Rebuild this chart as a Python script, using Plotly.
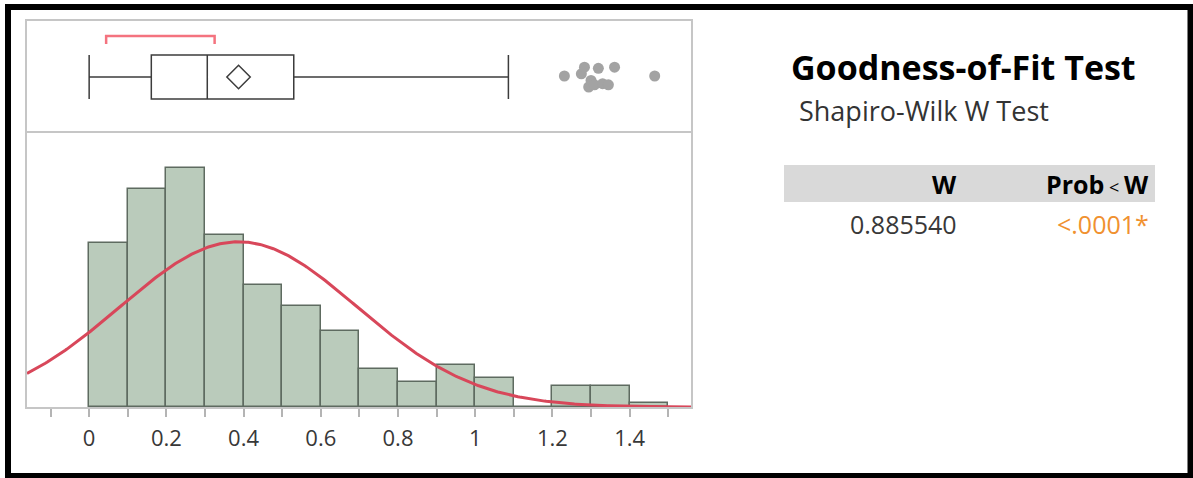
import numpy as np
import plotly.graph_objects as go

# ---------------- data ----------------
bin_starts = [0.0, 0.1, 0.2, 0.3, 0.4, 0.5, 0.6, 0.7, 0.8, 0.9, 1.0, 1.1, 1.2, 1.3, 1.4]
counts = [39, 52, 57, 41, 29, 24, 18, 9, 6, 10, 7, 0, 5, 5, 1]
bin_width = 0.1

fit_mean = 0.387
fit_sd = 0.307

box_lowerfence = 0.0
box_q1 = 0.161
box_median = 0.306
box_q3 = 0.530
box_upperfence = 1.086
box_mean = 0.387
shortest_half = [0.044, 0.325]

outlier_x = [1.231, 1.275, 1.283, 1.294, 1.300, 1.309, 1.319, 1.330, 1.345, 1.361, 1.465]
outlier_jitter = [0.50, 0.52, 0.58, 0.40, 0.46, 0.42, 0.57, 0.43, 0.42, 0.58, 0.50]

x_ticks = [0, 0.2, 0.4, 0.6, 0.8, 1.0, 1.2, 1.4]
x_ticklabels = ["0", "0.2", "0.4", "0.6", "0.8", "1", "1.2", "1.4"]

table_header = ["W", "Prob", "W"]
table_values = ["0.885540", "<.0001*"]
title_text = "Goodness-of-Fit Test"
subtitle_text = "Shapiro-Wilk W Test"

# ---------------- geometry ----------------
W, H = 1193, 478
XRANGE = [-0.161, 1.559]
FONT = "Open Sans"


def fx(px):
    return px / W


def fy(py):
    return (H - py) / H


fig = go.Figure()

# histogram bars
fig.add_trace(go.Bar(
    x=[s + bin_width / 2 for s in bin_starts], y=counts, width=bin_width,
    marker=dict(color="#bacbbb", line=dict(color="#5e6b60", width=1.5)),
    xaxis="x", yaxis="y", showlegend=False, hoverinfo="skip"))

# fitted normal curve
n_total = sum(counts)
xs = np.linspace(XRANGE[0], XRANGE[1], 400)
ys = n_total * bin_width * np.exp(-0.5 * ((xs - fit_mean) / fit_sd) ** 2) / (fit_sd * np.sqrt(2 * np.pi))
fig.add_trace(go.Scatter(x=xs, y=ys, mode="lines", line=dict(color="#d8475a", width=3),
                         xaxis="x", yaxis="y", showlegend=False, hoverinfo="skip"))

# box plot
fig.add_trace(go.Box(
    q1=[box_q1], median=[box_median], q3=[box_q3],
    lowerfence=[box_lowerfence], upperfence=[box_upperfence],
    y=[0.491], orientation="h", width=0.4, whiskerwidth=1,
    fillcolor="rgba(255,255,255,0)", line=dict(color="#3c3c3c", width=1.5),
    boxpoints=False, xaxis="x2", yaxis="y2", showlegend=False, hoverinfo="skip"))

# mean diamond
fig.add_trace(go.Scatter(x=[box_mean], y=[0.491], mode="markers",
                         marker=dict(symbol="diamond-open", size=18, color="#3c3c3c",
                                     line=dict(width=1.5, color="#3c3c3c")),
                         xaxis="x2", yaxis="y2", showlegend=False, hoverinfo="skip"))

# shortest half bracket
fig.add_trace(go.Scatter(x=[shortest_half[0], shortest_half[0], shortest_half[1], shortest_half[1]],
                         y=[0.79, 0.864, 0.864, 0.79], mode="lines",
                         line=dict(color="#f4737f", width=2.5),
                         xaxis="x2", yaxis="y2", showlegend=False, hoverinfo="skip"))

# outliers
fig.add_trace(go.Scatter(x=outlier_x, y=outlier_jitter, mode="markers",
                         marker=dict(size=11, color="#a3a3a3"),
                         xaxis="x2", yaxis="y2", showlegend=False, hoverinfo="skip"))

axis_gray = "#c6c6c6"
fig.update_layout(
    width=W, height=H,
    margin=dict(l=0, r=0, t=0, b=0),
    paper_bgcolor="white", plot_bgcolor="white",
    font=dict(family=FONT, color="#333333"),
    bargap=0,
    xaxis=dict(domain=[fx(27), fx(691)], range=XRANGE, anchor="y",
               tickvals=x_ticks, ticktext=x_ticklabels,
               ticks="outside", ticklen=8, tickwidth=1.5, tickcolor="#b4b4b4",
               minor=dict(dtick=0.1, tick0=0, ticks="outside", ticklen=8, tickwidth=1.5, tickcolor="#b4b4b4"),
               tickfont=dict(size=22, color="#383838", family=FONT),
               ticklabelstandoff=3,
               showline=True, linecolor=axis_gray, linewidth=2, mirror=True,
               showgrid=False, zeroline=False, automargin=False),
    yaxis=dict(domain=[fy(407), fy(133)], range=[0, 65.3], anchor="x",
               showticklabels=False, ticks="", showgrid=False, zeroline=False,
               showline=True, linecolor=axis_gray, linewidth=2, mirror=True, automargin=False),
    xaxis2=dict(domain=[fx(27), fx(691)], range=XRANGE, anchor="y2", matches="x",
                showticklabels=False, ticks="", showgrid=False, zeroline=False,
                showline=True, linecolor=axis_gray, linewidth=2, mirror=True, automargin=False),
    yaxis2=dict(domain=[fy(131), fy(21)], range=[0, 1], anchor="x2",
                showticklabels=False, ticks="", showgrid=False, zeroline=False,
                showline=True, linecolor=axis_gray, linewidth=2, mirror=True, automargin=False),
)

shapes = [
    # outer black frame
    dict(type="rect", xref="paper", yref="paper", x0=fx(8), x1=fx(1190.5), y0=fy(476), y1=fy(7),
         line=dict(color="black", width=6), fillcolor="rgba(0,0,0,0)", layer="above"),
    # table header band
    dict(type="rect", xref="paper", yref="paper", x0=fx(784), x1=fx(1155), y0=fy(202), y1=fy(165),
         line=dict(width=0), fillcolor="#d9d9d9", layer="below"),
]
fig.update_layout(shapes=shapes)

annotations = [
    dict(text=f"<b>{title_text}</b>", x=fx(789), y=fy(67), xanchor="left", yanchor="middle",
         font=dict(size=34, color="black", family=FONT)),
    dict(text=subtitle_text, x=fx(797), y=fy(110), xanchor="left", yanchor="middle",
         font=dict(size=27, color="#333333", family=FONT)),
    dict(text=f"<b>{table_header[0]}</b>", x=fx(959), y=fy(184), xanchor="right", yanchor="middle",
         font=dict(size=25, color="black", family=FONT)),
    dict(text=f"<b>{table_header[1]}</b><span style='font-size:18px'> &lt; </span><b>{table_header[2]}</b>",
         x=fx(1151), y=fy(184), xanchor="right", yanchor="middle",
         font=dict(size=25, color="black", family=FONT)),
    dict(text=table_values[0], x=fx(959), y=fy(224), xanchor="right", yanchor="middle",
         font=dict(size=25, color="#383838", family=FONT)),
    dict(text=table_values[1], x=fx(1151), y=fy(224), xanchor="right", yanchor="middle",
         font=dict(size=25, color="#f0912f", family=FONT)),
]
for a in annotations:
    a.update(xref="paper", yref="paper", showarrow=False)
fig.update_layout(annotations=annotations)

fig.write_html("out.html", config={"displayModeBar": False},
               post_script="document.body.style.margin='0';document.body.style.padding='0';")
